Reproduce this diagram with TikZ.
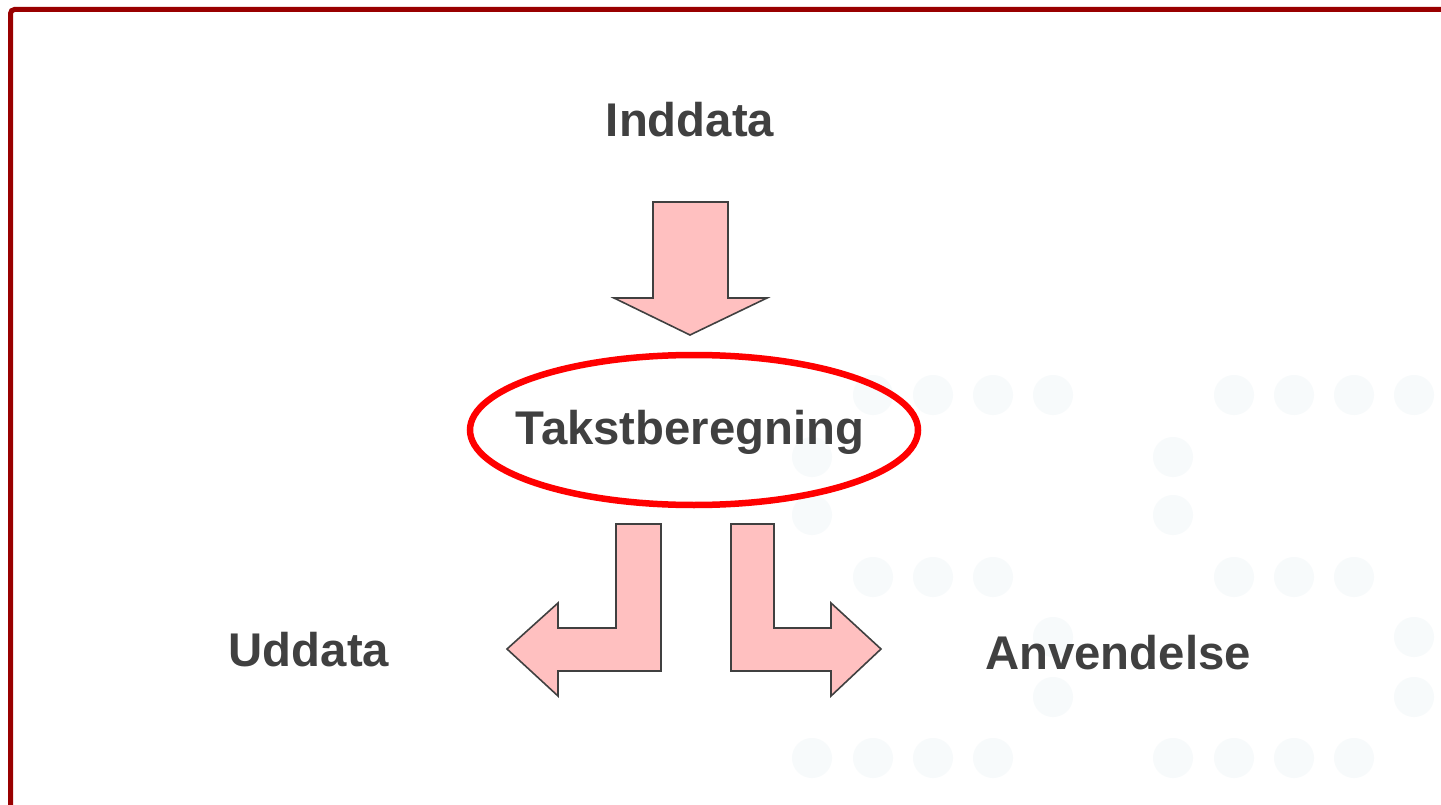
\documentclass[tikz,border=0pt]{standalone}
\usepackage{fontspec}
\setmainfont{Liberation Sans}
\usetikzlibrary{shapes.geometric}
\definecolor{framered}{HTML}{990000}
\definecolor{txtgray}{HTML}{404040}
\definecolor{arrowpink}{HTML}{FFC0C0}
\definecolor{dotgray}{HTML}{F7FAFB}
\tikzset{
  lbl/.style={font=\fontsize{47.3}{56}\selectfont\bfseries, text=txtgray, inner sep=0pt},
  blockarrow/.style={fill=arrowpink, draw=txtgray, line width=1.6pt, line join=miter},
  bgdot/.style={fill=dotgray, draw=none},
}
\begin{document}
\begin{tikzpicture}[x=1pt,y=-1pt]
\useasboundingbox (0,0) rectangle (1441,805);
\fill[white] (0,0) rectangle (1441,805);
% background dots
\foreach \x/\y in {873/395,933/395,993/395,1053/395,1234/395,1294/395,1354/395,1414/395,
  812/457,1173/457,812/515,1173/515,
  873/577,933/577,993/577,1234/577,1294/577,1354/577,
  1053/637,1414/637,1053/697,1414/697,
  812/758,873/758,933/758,993/758,1173/758,1234/758,1294/758,1354/758}
  \fill[bgdot] (\x,\y) circle (20);
% frame
\draw[framered, line width=5pt, rounded corners=4pt] (10.5,810) -- (10.5,9.5) -- (1450,9.5);
% texts
\node[lbl] (in) at (690,120) {Inddata};
\node[ellipse, draw=red, line width=6.5pt, minimum width=448pt, minimum height=150pt, inner sep=0pt] (calc) at (694,430) {};
\node[lbl] (calctxt) at (690,432) {Takstberegning};
\node[lbl] (out) at (309,650) {Uddata};
\node[lbl] (use) at (1118,653) {Anvendelse};
% down arrow
\draw[blockarrow] (653,202) -- (728,202) -- (728,298) -- (767,298) -- (690,335) -- (614,298) -- (653,298) -- cycle;
% left bent arrow
\draw[blockarrow] (616,524) -- (661,524) -- (661,671) -- (558,671) -- (558,696) -- (507,649) -- (558,603) -- (558,628) -- (616,628) -- cycle;
% right bent arrow
\draw[blockarrow] (731,524) -- (774,524) -- (774,628) -- (831,628) -- (831,603) -- (881,649) -- (831,696) -- (831,671) -- (731,671) -- cycle;
\end{tikzpicture}
\end{document}
